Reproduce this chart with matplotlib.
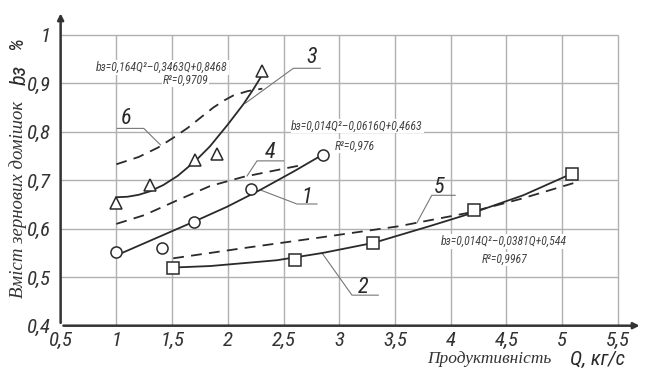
import matplotlib
matplotlib.use("Agg")
import matplotlib.pyplot as plt
import matplotlib.font_manager as fm

# measured points
tri_q = [1.0, 1.3, 1.71, 1.9, 2.31]
tri_b = [0.654, 0.691, 0.742, 0.755, 0.926]
circ_q = [1.0, 1.41, 1.7, 2.21, 2.85]
circ_b = [0.551, 0.560, 0.614, 0.682, 0.752]
sq_q = [1.51, 2.6, 3.3, 4.21, 5.09]
sq_b = [0.520, 0.535, 0.571, 0.638, 0.712]

# trend curves
c1_q = [1.0, 1.2, 1.4, 1.71, 1.99, 2.29, 2.59, 2.83]
c1_b = [0.545, 0.565, 0.585, 0.616, 0.645, 0.680, 0.718, 0.750]
c2_q = [1.51, 1.84, 2.14, 2.44, 2.85, 3.31, 3.82, 4.2, 4.65, 5.09]
c2_b = [0.520, 0.523, 0.529, 0.535, 0.550, 0.571, 0.606, 0.633, 0.669, 0.714]
c3_q = [1.0, 1.1, 1.2, 1.3, 1.42, 1.55, 1.71, 1.84, 2.0, 2.14, 2.23, 2.31]
c3_b = [0.665, 0.666, 0.670, 0.677, 0.690, 0.709, 0.740, 0.770, 0.815, 0.857, 0.888, 0.918]
c4_q = [1.0, 1.25, 1.55, 1.84, 2.14, 2.44, 2.68]
c4_b = [0.610, 0.628, 0.659, 0.688, 0.707, 0.721, 0.732]
c5_q = [1.51, 2.14, 2.83, 3.53, 4.14, 4.62, 5.1]
c5_b = [0.539, 0.560, 0.582, 0.605, 0.632, 0.661, 0.694]
c6_q = [1.0, 1.2, 1.37, 1.52, 1.64, 1.76, 1.87, 1.97, 2.05, 2.18, 2.31]
c6_b = [0.733, 0.748, 0.767, 0.789, 0.808, 0.830, 0.850, 0.865, 0.875, 0.884, 0.889]

x_ticks = [0.5, 1, 1.5, 2, 2.5, 3, 3.5, 4, 4.5, 5, 5.5]
x_labels = ["0,5", "1", "1,5", "2", "2,5", "3", "3,5", "4", "4,5", "5", "5,5"]
y_ticks = [0.4, 0.5, 0.6, 0.7, 0.8, 0.9, 1.0]
y_labels = ["0,4", "0,5", "0,6", "0,7", "0,8", "0,9", "1"]

eq3 = "bз=0,164Q²–0,3463Q+0,8468"
r3 = "R²=0,9709"
eq1 = "bз=0,014Q²–0,0616Q+0,4663"
r1 = "R²=0,976"
eq2 = "bз=0,014Q²–0,0381Q+0,544"
r2 = "R²=0,9967"

# look for a narrow sans for the drafting-style text
names = {f.name for f in fm.fontManager.ttflist}
narrow_kw = None
for cand in ["Liberation Sans Narrow", "Roboto Condensed", "Open Sans Condensed",
             "DejaVu Sans Condensed"]:
    if cand in names:
        narrow_kw = dict(family=[cand, "DejaVu Sans"])
        break
if narrow_kw is None:
    for f in fm.fontManager.ttflist:
        if "ondensed" in str(f.stretch) and f.name == "DejaVu Sans":
            narrow_kw = dict(family=["DejaVu Sans"], stretch="condensed")
            break
if narrow_kw is None:
    narrow_kw = dict(family=["DejaVu Sans"])
    k = 0.82
else:
    k = 1.0

serif = ["Liberation Serif", "DejaVu Serif"]
ink = "#2a2a2a"
grey = "#b0b0b0"

fig = plt.figure(figsize=(6.45, 3.72), dpi=100)
ax = fig.add_axes([0.094, 0.1245, 0.902, 0.847])
ax.set_xlim(0.5, 5.72)
ax.set_ylim(0.4, 1.05)
for s in ax.spines.values():
    s.set_visible(False)

# grid stops at 5.5 / 1.0
ax.vlines(x_ticks[1:], 0.4, 1.0, color=grey, lw=1.0, zorder=1)
ax.hlines(y_ticks[1:], 0.5, 5.5, color=grey, lw=1.0, zorder=1)

# axes with arrows
ax.annotate("", xy=(5.72, 0.4), xytext=(0.5, 0.4),
            arrowprops=dict(arrowstyle="-|>", lw=1.8, color="#333", mutation_scale=9),
            annotation_clip=False)
ax.annotate("", xy=(0.5, 1.05), xytext=(0.5, 0.4),
            arrowprops=dict(arrowstyle="-|>", lw=1.8, color="#333", mutation_scale=9),
            annotation_clip=False)

ax.set_xticks(x_ticks)
ax.set_xticklabels(x_labels, style="italic", fontsize=15 * k, color="#333", **narrow_kw)
ax.set_yticks(y_ticks)
ax.set_yticklabels(y_labels, style="italic", fontsize=15 * k, color="#333", **narrow_kw)
ax.tick_params(axis="x", length=0, pad=4)
ax.tick_params(axis="y", length=0, pad=7)

# curves
lw = 1.3
ax.plot(c1_q, c1_b, color=ink, lw=lw, zorder=3)
ax.plot(c2_q, c2_b, color=ink, lw=lw, zorder=3)
ax.plot(c3_q, c3_b, color=ink, lw=lw, zorder=3)
for q, b in [(c4_q, c4_b), (c5_q, c5_b), (c6_q, c6_b)]:
    ax.plot(q, b, color=ink, lw=lw, dashes=(6, 4), zorder=3)

mk = dict(ls="none", mfc="white", mec=ink, mew=1.1, ms=8, zorder=4)
ax.plot(tri_q, tri_b, marker="^", **mk)
ax.plot(circ_q, circ_b, marker="o", **mk)
ax.plot(sq_q, sq_b, marker="s", **mk)

# leaders and curve numbers
leaders = {
    "3": ([2.158, 2.588, 2.83], [0.859, 0.931, 0.931], (2.75, 0.954)),
    "6": ([1.396, 1.246, 1.008], [0.773, 0.807, 0.807], (1.09, 0.828)),
    "4": ([2.173, 2.262, 2.50], [0.709, 0.740, 0.740], (2.38, 0.758)),
    "1": ([2.292, 2.62, 2.80], [0.680, 0.651, 0.651], (2.71, 0.665)),
    "5": ([3.696, 3.83, 4.04], [0.612, 0.669, 0.669], (3.90, 0.686)),
    "2": ([2.845, 3.114, 3.35], [0.550, 0.463, 0.463], (3.215, 0.478)),
}
for name, (lx, ly, (tx, ty)) in leaders.items():
    ax.plot(lx, ly, color="#777", lw=0.8, zorder=2)
    ax.text(tx, ty, name, style="italic", fontsize=16 * k,
            color=ink, ha="center", va="center", zorder=5, **narrow_kw)

box = dict(facecolor="white", edgecolor="none", pad=0.5)
eq_kw = dict(style="italic", fontsize=8.5 * k * (0.85 if k < 1 else 1), color="#444",
             ha="center", va="center", zorder=5, bbox=box, **narrow_kw)
ax.text(1.41, 0.933, eq3, **eq_kw)
ax.text(1.62, 0.907, r3, **eq_kw)
ax.text(3.16, 0.812, eq1, **eq_kw)
ax.text(3.14, 0.771, r1, **eq_kw)
ax.text(4.48, 0.574, eq2, **eq_kw)
ax.text(4.48, 0.537, r2, **eq_kw)

# axis titles
W, H = 645.0, 372.0
fig.text(18 / W, 1 - 199 / H, "Вміст зернових домішок", family=serif,
         style="italic", fontsize=13.5, rotation=90, ha="center", va="center", color="#333")
fig.text(20 / W, 1 - 75 / H, "bз", style="italic", fontsize=16 * k,
         rotation=90, ha="center", va="center", color=ink, **narrow_kw)
fig.text(17 / W, 1 - 44 / H, "%", style="italic", fontsize=15 * k,
         rotation=90, ha="center", va="center", color=ink, **narrow_kw)
fig.text(489 / W, 1 - 359 / H, "Продуктивність", family=serif,
         style="italic", fontsize=12.5, ha="center", va="center", color="#333")
fig.text(598 / W, 1 - 359 / H, "Q, кг/с", style="italic",
         fontsize=15 * k, ha="center", va="center", color=ink, **narrow_kw)

fig.savefig("out.png", dpi=100)
